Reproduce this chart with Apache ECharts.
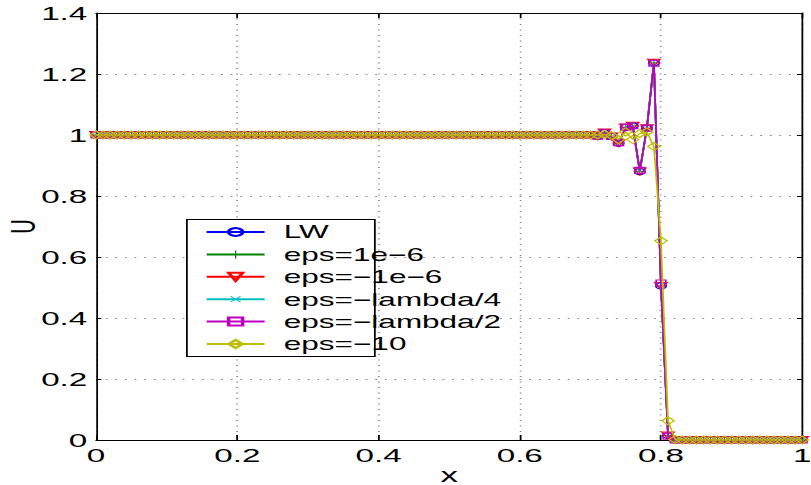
<!DOCTYPE html>
<html><head><meta charset="utf-8">
<script src="https://cdn.jsdelivr.net/npm/echarts@6/dist/echarts.min.js"></script>
<style>
html,body{margin:0;padding:0;background:#fff;overflow:hidden;}
#wrap{width:811px;height:485px;overflow:hidden;position:relative;}
#chart{width:463.43px;height:485px;transform:scaleX(1.75);transform-origin:0 0;}
</style></head><body><div id="wrap"><div id="chart"></div></div>
<script>
const xValues = [
0,0.01,0.02,0.03,0.04,0.05,0.06,0.07,0.08,0.09,
0.10,0.11,0.12,0.13,0.14,0.15,0.16,0.17,0.18,0.19,
0.20,0.21,0.22,0.23,0.24,0.25,0.26,0.27,0.28,0.29,
0.30,0.31,0.32,0.33,0.34,0.35,0.36,0.37,0.38,0.39,
0.40,0.41,0.42,0.43,0.44,0.45,0.46,0.47,0.48,0.49,
0.50,0.51,0.52,0.53,0.54,0.55,0.56,0.57,0.58,0.59,
0.60,0.61,0.62,0.63,0.64,0.65,0.66,0.67,0.68,0.69,
0.70,0.71,0.72,0.73,0.74,0.75,0.76,0.77,0.78,0.79,
0.80,0.81,0.82,0.83,0.84,0.85,0.86,0.87,0.88,0.89,
0.90,0.91,0.92,0.93,0.94,0.95,0.96,0.97,0.98,0.99,
1.00];
const uLW = [
1,1,1,1,1,1,1,1,1,1, 1,1,1,1,1,1,1,1,1,1, 1,1,1,1,1,1,1,1,1,1,
1,1,1,1,1,1,1,1,1,1, 1,1,1,1,1,1,1,1,1,1, 1,1,1,1,1,1,1,1,1,1,
1,1,1,1,1,1,1,1,1,1,
1.000,0.996,1.008,0.995,0.973,1.025,1.030,0.880,1.022,1.237,
0.505,0.015,0,0,0,0,0,0,0,0, 0,0,0,0,0,0,0,0,0,0,0];
const uEpsPos1e6 = [
1,1,1,1,1,1,1,1,1,1, 1,1,1,1,1,1,1,1,1,1, 1,1,1,1,1,1,1,1,1,1,
1,1,1,1,1,1,1,1,1,1, 1,1,1,1,1,1,1,1,1,1, 1,1,1,1,1,1,1,1,1,1,
1,1,1,1,1,1,1,1,1,1,
1.000,0.996,1.008,0.995,0.973,1.025,1.030,0.880,1.022,1.237,
0.505,0.015,0,0,0,0,0,0,0,0, 0,0,0,0,0,0,0,0,0,0,0];
const uEpsNeg1e6 = [
1,1,1,1,1,1,1,1,1,1, 1,1,1,1,1,1,1,1,1,1, 1,1,1,1,1,1,1,1,1,1,
1,1,1,1,1,1,1,1,1,1, 1,1,1,1,1,1,1,1,1,1, 1,1,1,1,1,1,1,1,1,1,
1,1,1,1,1,1,1,1,1,1,
1.000,0.996,1.008,0.995,0.973,1.025,1.030,0.880,1.022,1.237,
0.505,0.015,0,0,0,0,0,0,0,0, 0,0,0,0,0,0,0,0,0,0,0];
const uEpsLambda4 = [
1,1,1,1,1,1,1,1,1,1, 1,1,1,1,1,1,1,1,1,1, 1,1,1,1,1,1,1,1,1,1,
1,1,1,1,1,1,1,1,1,1, 1,1,1,1,1,1,1,1,1,1, 1,1,1,1,1,1,1,1,1,1,
1,1,1,1,1,1,1,1,1,1,
1.000,0.996,1.008,0.995,0.974,1.025,1.030,0.882,1.022,1.236,
0.510,0.014,0,0,0,0,0,0,0,0, 0,0,0,0,0,0,0,0,0,0,0];
const uEpsLambda2 = [
1,1,1,1,1,1,1,1,1,1, 1,1,1,1,1,1,1,1,1,1, 1,1,1,1,1,1,1,1,1,1,
1,1,1,1,1,1,1,1,1,1, 1,1,1,1,1,1,1,1,1,1, 1,1,1,1,1,1,1,1,1,1,
1,1,1,1,1,1,1,1,1,1,
1.000,0.996,1.008,0.995,0.975,1.025,1.030,0.884,1.022,1.235,
0.515,0.012,0,0,0,0,0,0,0,0, 0,0,0,0,0,0,0,0,0,0,0];
const uEpsNeg10 = [
1,1,1,1,1,1,1,1,1,1, 1,1,1,1,1,1,1,1,1,1, 1,1,1,1,1,1,1,1,1,1,
1,1,1,1,1,1,1,1,1,1, 1,1,1,1,1,1,1,1,1,1, 1,1,1,1,1,1,1,1,1,1,
1,1,1,1,1,1,1,1,1,1,
1.000,1.000,1.002,0.998,0.985,1.010,0.985,1.005,1.010,0.962,
0.653,0.063,0.002,0,0,0,0,0,0,0, 0,0,0,0,0,0,0,0,0,0,0];
const seriesNames = ['LW','eps=1e\u22126','eps=\u22121e\u22126','eps=\u2212lambda/4','eps=\u2212lambda/2','eps=\u221210'];
const xTicks = ['0','0.2','0.4','0.6','0.8','1'];
const yTicks = ['0','0.2','0.4','0.6','0.8','1','1.2','1.4'];

const seriesValues = [uLW,uEpsPos1e6,uEpsNeg1e6,uEpsLambda4,uEpsLambda2,uEpsNeg10];
const colors = ['#0000ff','#008000','#ff0000','#00bfbf','#bf00bf','#bfbf00'];
const PLUS = 'path://M-0.09,-1H0.09V-0.09H1V0.09H0.09V1H-0.09V0.09H-1V-0.09H-0.09Z';
const symbols = [
  {symbol:'circle', size:[6,6], rot:0, hollow:true},
  {symbol:PLUS, size:[6,7], rot:0, hollow:false},
  {symbol:'triangle', size:[7,7], rot:180, hollow:true},
  {symbol:PLUS, size:[5,5], rot:45, hollow:false},
  {symbol:'rect', size:[5.5,6], rot:0, hollow:true},
  {symbol:'diamond', size:[7,8], rot:0, hollow:true}
];
const FONT = '"Liberation Sans", Arial, Helvetica, sans-serif';

const chart = echarts.init(document.getElementById('chart'), null, {renderer:'svg'});
const series = seriesNames.map((n,k)=>({
  name:n, type:'line', xAxisIndex:0, yAxisIndex:0,
  data: xValues.map((x,i)=>[x, seriesValues[k][i]]),
  symbol: symbols[k].symbol, symbolSize: symbols[k].size, symbolRotate: symbols[k].rot,
  showSymbol:true,
  lineStyle:{color:colors[k], width:1},
  itemStyle: symbols[k].hollow ? {color:'rgba(0,0,0,0)', borderColor:colors[k], borderWidth:1} : {color:colors[k], borderWidth:0},
  emphasis:{disabled:true},
  z: 2 + k*0.01
}));
const tickFmt = (arr)=> (v)=> { const s = String(Math.round(v*10)/10); return arr.indexOf(s)>=0 ? s : ''; };
const axisLine = {show:true, onZero:false, lineStyle:{color:'#000', width:1}};
chart.setOption({
  animation:false,
  backgroundColor:'#fff',
  grid:{left:54.9, right:4.6, top:13, bottom:45, containLabel:false, outerBoundsMode:'none'},
  xAxis:[
    {type:'value', min:0, max:1, interval:0.2, position:'bottom', axisLine:axisLine,
      axisTick:{show:true, inside:true, length:5, lineStyle:{color:'#000'}},
      axisLabel:{color:'#000', fontSize:19, fontFamily:FONT, margin:6, formatter:tickFmt(xTicks)},
      splitLine:{show:true, lineStyle:{color:'#888', type:[1,4.5], width:1}},
      name:'x', nameLocation:'middle', nameGap:25, nameMoveOverlap:false,
      nameTextStyle:{color:'#000', fontSize:20, fontFamily:FONT}},
    {type:'value', min:0, max:1, interval:0.2, position:'top', axisLine:axisLine,
      axisTick:{show:true, inside:true, length:5, lineStyle:{color:'#000'}},
      axisLabel:{show:false}, splitLine:{show:false}}
  ],
  yAxis:[
    {type:'value', min:0, max:1.4, interval:0.2, position:'left', axisLine:axisLine,
      axisTick:{show:true, inside:true, length:3, lineStyle:{color:'#000'}},
      axisLabel:{color:'#000', fontSize:19, fontFamily:FONT, margin:5, formatter:tickFmt(yTicks)},
      splitLine:{show:true, lineStyle:{color:'#888', type:[1,4.5], width:1}},
      name:'U', nameLocation:'middle', nameGap:32, nameRotate:90, nameMoveOverlap:false,
      nameTextStyle:{color:'#000', fontSize:20, fontFamily:FONT}},
    {type:'value', min:0, max:1.4, interval:0.2, position:'right', axisLine:axisLine,
      axisTick:{show:true, inside:true, length:3, lineStyle:{color:'#000'}},
      axisLabel:{show:false}, splitLine:{show:false}}
  ],
  graphic:[{type:'rect', left:106.3, top:219, z:3, silent:true,
    shape:{width:107.4, height:137}, style:{fill:'#fff', stroke:'#000', lineWidth:1}}],
  legend:{
    show:true, orient:'vertical', left:117.1, top:220.8, padding:0, itemGap:0,
    itemWidth:33.1, itemHeight:10, z:5, selectedMode:false,
    textStyle:{color:'#000', fontSize:18, fontFamily:FONT, lineHeight:22.4, padding:[0,0,0,6]},
    data: seriesNames
  },
  series: series
});
</script></body></html>
